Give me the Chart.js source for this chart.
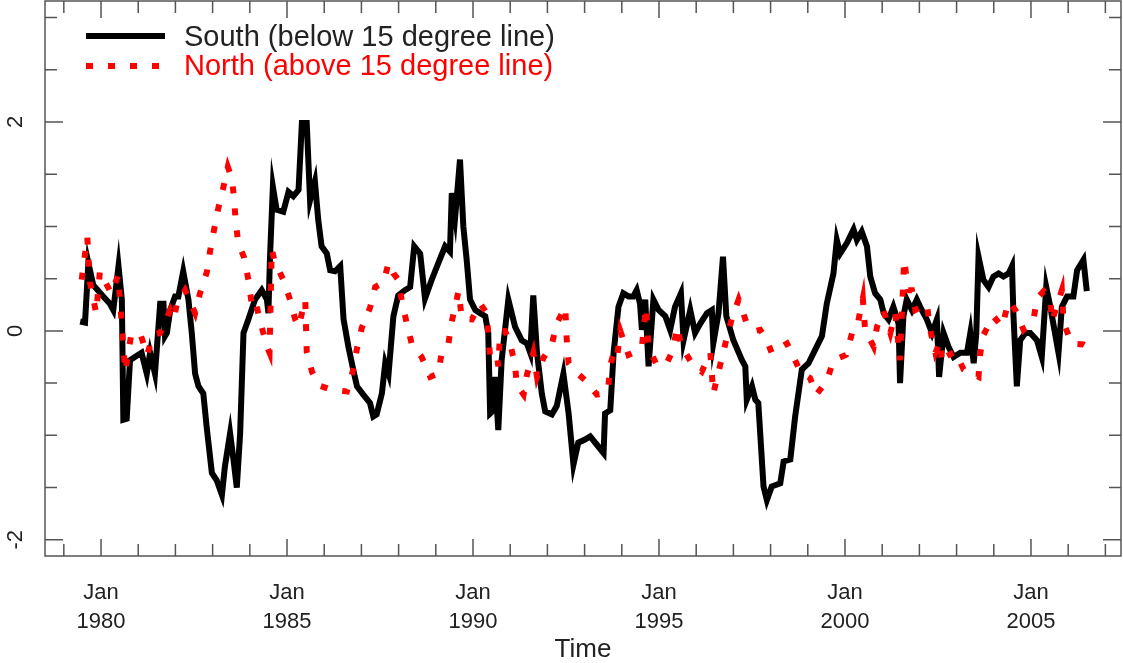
<!DOCTYPE html>
<html>
<head>
<meta charset="utf-8">
<script src="https://cdn.jsdelivr.net/npm/chart.js@4.4.1/dist/chart.umd.min.js"></script>
<style>
  body { margin: 0; background: #fff; }
  canvas { display: block; }
</style>
</head>
<body>
<canvas id="tempChart" width="1123" height="663"></canvas>
<script>
// South (below 15 degree line): decimal year / anomaly
const southTime = [
  1979.44,1979.57,1979.66,1979.79,1980.06,1980.24,1980.33,1980.47,1980.56,1980.60,
  1980.69,1980.78,1980.91,1981.09,1981.23,1981.32,1981.45,1981.59,1981.68,1981.72,
  1981.77,1981.86,1981.99,1982.08,1982.21,1982.35,1982.44,1982.53,1982.62,1982.75,
  1982.84,1982.98,1983.11,1983.25,1983.33,1983.47,1983.56,1983.65,1983.74,1983.83,
  1983.96,1984.14,1984.32,1984.46,1984.50,1984.54,1984.62,1984.72,1984.90,1985.04,
  1985.17,1985.31,1985.40,1985.53,1985.62,1985.75,1985.84,1985.93,1986.07,1986.16,
  1986.29,1986.43,1986.52,1986.65,1986.78,1986.88,1987.05,1987.23,1987.32,1987.41,
  1987.55,1987.64,1987.73,1987.86,1987.99,1988.17,1988.31,1988.42,1988.58,1988.71,
  1988.89,1989.07,1989.25,1989.38,1989.43,1989.52,1989.65,1989.74,1989.83,1989.92,
  1990.06,1990.19,1990.33,1990.41,1990.46,1990.55,1990.59,1990.68,1990.77,1990.95,
  1991.13,1991.31,1991.45,1991.54,1991.62,1991.72,1991.85,1991.94,1992.12,1992.25,
  1992.43,1992.57,1992.70,1992.83,1993.01,1993.15,1993.33,1993.51,1993.55,1993.69,
  1993.78,1993.91,1994.04,1994.18,1994.31,1994.40,1994.49,1994.54,1994.63,1994.72,
  1994.85,1994.99,1995.17,1995.30,1995.43,1995.59,1995.66,1995.84,1995.97,1996.11,
  1996.29,1996.42,1996.46,1996.60,1996.72,1996.81,1997.00,1997.23,1997.32,1997.36,
  1997.50,1997.59,1997.67,1997.81,1997.90,1998.03,1998.26,1998.35,1998.53,1998.66,
  1998.84,1999.02,1999.24,1999.38,1999.51,1999.69,1999.78,1999.87,2000.05,2000.23,
  2000.32,2000.45,2000.59,2000.68,2000.81,2000.95,2001.04,2001.17,2001.30,2001.44,
  2001.48,2001.57,2001.66,2001.80,2001.93,2002.02,2002.20,2002.34,2002.47,2002.53,
  2002.65,2002.78,2002.92,2003.10,2003.28,2003.37,2003.46,2003.53,2003.59,2003.72,
  2003.86,2003.99,2004.13,2004.26,2004.40,2004.49,2004.53,2004.62,2004.71,2004.85,
  2004.98,2005.16,2005.29,2005.41,2005.52,2005.74,2005.83,2005.97,2006.14,2006.24,
  2006.41,2006.50
];
const southValue = [
  0.09,0.08,0.65,0.44,0.33,0.26,0.20,0.62,0.30,-0.85,
  -0.84,-0.28,-0.25,-0.21,-0.41,-0.21,-0.41,0.26,0.26,-0.05,
  -0.02,0.20,0.33,0.33,0.57,0.30,-0.02,-0.41,-0.53,-0.60,
  -0.92,-1.36,-1.43,-1.57,-1.30,-0.98,-1.23,-1.50,-0.98,-0.02,
  0.11,0.30,0.39,0.30,0.17,0.68,1.38,1.16,1.14,1.33,
  1.29,1.35,1.99,1.99,1.25,1.43,1.06,0.81,0.74,0.58,
  0.57,0.62,0.11,-0.15,-0.37,-0.53,-0.61,-0.69,-0.82,-0.80,
  -0.60,-0.31,-0.41,0.14,0.34,0.39,0.42,0.81,0.74,0.31,
  0.49,0.65,0.81,0.76,1.32,1.09,1.64,1.00,0.68,0.30,
  0.20,0.17,0.14,-0.02,-0.79,-0.76,-0.44,-0.95,-0.28,0.30,
  0.04,-0.09,-0.12,-0.21,0.34,-0.21,-0.60,-0.77,-0.80,-0.72,
  -0.41,-0.79,-1.28,-1.07,-1.04,-1.01,-1.09,-1.17,-0.79,-0.76,
  -0.21,0.23,0.36,0.33,0.33,0.39,0.26,0.01,0.30,-0.34,
  0.30,0.20,0.14,0.01,0.23,0.36,-0.09,0.20,-0.02,0.07,
  0.17,0.20,-0.12,0.17,0.71,0.14,-0.09,-0.28,-0.34,-0.66,
  -0.53,-0.66,-0.69,-1.49,-1.62,-1.49,-1.46,-1.25,-1.23,-0.82,
  -0.37,-0.31,-0.15,-0.05,0.26,0.55,0.87,0.74,0.84,0.97,
  0.87,0.95,0.81,0.52,0.36,0.30,0.17,0.11,0.23,0.07,
  -0.50,0.14,0.30,0.20,0.30,0.23,0.11,-0.02,0.11,-0.44,
  -0.02,-0.15,-0.25,-0.21,-0.21,-0.02,-0.31,-0.02,0.71,0.49,
  0.42,0.52,0.55,0.52,0.55,0.62,0.14,-0.53,-0.09,-0.02,
  -0.02,-0.09,-0.25,0.42,0.23,-0.21,0.23,0.33,0.33,0.58,
  0.68,0.38
];

// North (above 15 degree line)
const northTime = [
  1979.48,1979.63,1979.70,1979.87,1979.97,1980.27,1980.46,1980.65,1980.81,1981.05,
  1981.24,1981.40,1981.59,1981.67,1981.86,1981.96,1982.04,1982.26,1982.53,1982.66,
  1982.85,1982.93,1983.04,1983.15,1983.28,1983.41,1983.52,1983.58,1983.62,1983.69,
  1983.85,1983.96,1984.05,1984.14,1984.28,1984.46,1984.53,1984.59,1984.68,1984.90,
  1985.08,1985.22,1985.31,1985.49,1985.53,1985.67,1985.84,1986.16,1986.61,1986.78,
  1986.88,1987.01,1987.23,1987.37,1987.59,1987.73,1987.86,1987.99,1988.09,1988.22,
  1988.35,1988.62,1988.85,1989.07,1989.16,1989.34,1989.43,1989.61,1989.70,1989.97,
  1990.19,1990.37,1990.41,1990.46,1990.64,1990.68,1990.73,1990.86,1991.00,1991.13,
  1991.18,1991.36,1991.45,1991.62,1991.72,1991.89,1992.12,1992.25,1992.48,1992.52,
  1992.57,1992.75,1993.01,1993.33,1993.55,1993.64,1993.69,1993.78,1993.87,1993.96,
  1994.18,1994.36,1994.54,1994.65,1994.72,1994.94,1995.21,1995.39,1995.48,1995.61,
  1995.88,1996.15,1996.38,1996.46,1996.69,1996.82,1996.96,1997.14,1997.36,1997.59,
  1997.72,1997.90,1998.03,1998.44,1998.62,1998.80,1999.06,1999.23,1999.51,1999.69,
  2000.03,2000.19,2000.32,2000.48,2000.54,2000.77,2000.86,2001.04,2001.22,2001.35,
  2001.48,2001.59,2001.70,2001.80,2001.89,2002.20,2002.29,2002.43,2002.56,2002.61,
  2002.69,2002.96,2003.19,2003.41,2003.59,2003.63,2003.72,2003.99,2004.22,2004.40,
  2004.58,2004.80,2005.07,2005.16,2005.34,2005.52,2005.56,2005.83,2005.88,2006.10,
  2006.41,2006.51
];
const northValue = [
  0.49,0.90,0.47,0.17,0.57,0.36,0.53,-0.39,-0.04,-0.02,
  -0.23,-0.04,-0.02,0.04,0.20,0.12,0.26,0.39,0.17,0.36,
  0.57,0.76,0.97,1.17,1.36,1.57,1.46,1.25,1.05,0.84,
  0.70,0.49,0.26,0.30,0.09,-0.15,-0.21,0.78,0.65,0.49,
  0.30,0.11,0.04,0.30,-0.20,-0.39,-0.52,-0.56,-0.58,-0.37,
  -0.17,0.03,0.22,0.42,0.46,0.65,0.55,0.49,0.28,0.07,
  -0.12,-0.25,-0.44,-0.41,-0.20,-0.12,0.09,0.38,0.12,0.11,
  0.26,0.17,-0.04,-0.25,-0.23,-0.34,0.00,0.00,-0.12,-0.33,
  -0.52,-0.61,-0.42,-0.21,-0.44,-0.26,-0.13,0.07,0.23,-0.09,
  -0.31,-0.39,-0.47,-0.61,-0.60,-0.53,-0.33,-0.21,-0.26,0.00,
  -0.23,-0.20,-0.15,0.23,-0.15,-0.33,-0.31,-0.17,0.04,-0.15,
  -0.31,-0.39,-0.21,-0.60,-0.26,-0.07,0.12,0.30,0.07,0.00,
  0.01,-0.09,-0.21,-0.12,-0.25,-0.39,-0.45,-0.61,-0.48,-0.28,
  -0.23,-0.02,0.03,0.31,0.01,-0.15,0.04,0.19,-0.02,0.17,
  -0.28,0.68,0.39,0.39,0.20,0.26,0.01,-0.21,-0.10,-0.31,
  -0.25,-0.20,-0.37,-0.41,-0.44,-0.23,-0.04,0.14,0.04,0.28,
  0.20,0.01,0.11,0.31,0.38,0.30,0.09,0.39,0.07,-0.12,
  -0.13,-0.15
];

// axis ticks
const labelYears = [1980, 1985, 1990, 1995, 2000, 2005];
const yLabels = [-2, 0, 2];
const seriesNames = ['South (below 15 degree line)', 'North (above 15 degree line)'];

const FONT = '"Liberation Sans", Arial, sans-serif';
const LINE_W = 6;
const DOTS = [7, 15];

function toPoints(ts, vs) {
  return ts.map((t, i) => ({ x: t, y: vs[i] }));
}

// R style box with inward ticks, labels and legend
const rAxes = {
  id: 'rAxes',
  afterDraw(chart) {
    const ctx = chart.ctx;
    const a = chart.chartArea;
    const xs = chart.scales.x;
    const ys = chart.scales.y;
    ctx.save();
    ctx.strokeStyle = '#555';
    ctx.lineWidth = 1.5;
    ctx.strokeRect(a.left, a.top, a.right - a.left, a.bottom - a.top);

    ctx.beginPath();
    for (let yr = Math.ceil(xs.min); yr <= xs.max; yr++) {
      const px = xs.getPixelForValue(yr);
      const len = labelYears.includes(yr) ? 17 : 12;
      ctx.moveTo(px, a.bottom); ctx.lineTo(px, a.bottom - len);
      ctx.moveTo(px, a.top); ctx.lineTo(px, a.top + len);
    }
    for (let v = -2; v <= 3; v += 0.5) {
      const py = ys.getPixelForValue(v);
      const len = yLabels.includes(v) ? 18 : 12;
      ctx.moveTo(a.left, py); ctx.lineTo(a.left + len, py);
      ctx.moveTo(a.right, py); ctx.lineTo(a.right - len, py);
    }
    ctx.stroke();

    ctx.fillStyle = '#222';
    ctx.textAlign = 'center';
    ctx.textBaseline = 'middle';
    ctx.font = '22px ' + FONT;
    labelYears.forEach(yr => {
      const px = xs.getPixelForValue(yr);
      ctx.fillText('Jan', px, a.bottom + 37);
      ctx.fillText(String(yr), px, a.bottom + 66);
    });
    yLabels.forEach(v => {
      ctx.save();
      ctx.translate(16, ys.getPixelForValue(v));
      ctx.rotate(-Math.PI / 2);
      ctx.fillText(String(v), 0, 0);
      ctx.restore();
    });
    ctx.font = '26px ' + FONT;
    ctx.fillText('Time', (a.left + a.right) / 2, 650);

    // legend
    ctx.lineWidth = LINE_W;
    ctx.lineCap = 'butt';
    ctx.strokeStyle = '#000';
    ctx.beginPath(); ctx.moveTo(86, 36); ctx.lineTo(165, 36); ctx.stroke();
    ctx.strokeStyle = '#ff0000';
    ctx.setLineDash(DOTS);
    ctx.beginPath(); ctx.moveTo(86, 66); ctx.lineTo(165, 66); ctx.stroke();
    ctx.setLineDash([]);
    ctx.font = '29px ' + FONT;
    ctx.textAlign = 'left';
    ctx.fillStyle = '#222';
    ctx.fillText(seriesNames[0], 184, 38);
    ctx.fillStyle = '#ff0000';
    ctx.fillText(seriesNames[1], 184, 67);
    ctx.restore();
  }
};

new Chart(document.getElementById('tempChart'), {
  type: 'line',
  data: {
    datasets: [{
      label: seriesNames[1],
      data: toPoints(northTime, northValue),
      borderColor: '#ff0000',
      borderWidth: LINE_W,
      borderDash: DOTS,
      borderCapStyle: 'butt',
      pointRadius: 0,
      tension: 0
    }, {
      label: seriesNames[0],
      data: toPoints(southTime, southValue),
      borderColor: '#000000',
      borderWidth: LINE_W,
      pointRadius: 0,
      tension: 0
    }]
  },
  options: {
    responsive: false,
    animation: false,
    layout: { padding: { left: 45, right: 2, top: 1, bottom: 107 } },
    plugins: { legend: { display: false }, tooltip: { enabled: false } },
    scales: {
      x: { type: 'linear', min: 1978.494, max: 2007.42, display: false },
      y: { type: 'linear', min: -2.155, max: 3.158, display: false }
    }
  },
  plugins: [rAxes]
});
</script>
</body>
</html>
